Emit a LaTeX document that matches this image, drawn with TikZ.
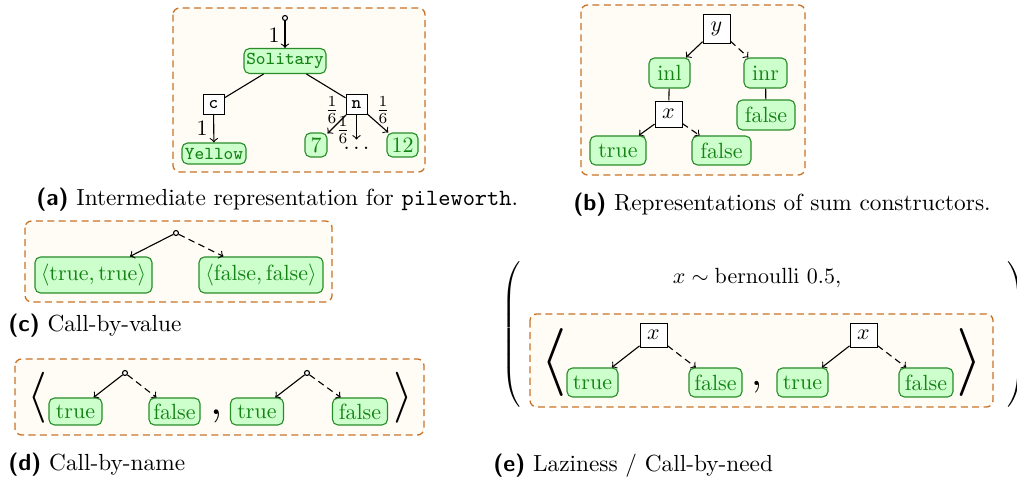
\documentclass[tikz,border=0pt]{standalone}
\usepackage{graphicx}
\usepackage{amsmath}
\newcommand\pxu{0.455pt}
\newdimen\pxlen \pxlen=0.455pt
\definecolor{boxline}{RGB}{200,115,40}
\definecolor{boxfill}{RGB}{255,251,245}
\definecolor{gfill}{RGB}{204,255,204}
\definecolor{gdraw}{RGB}{40,140,40}
\definecolor{gtext}{RGB}{20,130,20}
\newcommand\smalltt[1]{{\fontsize{8.3pt}{10pt}\selectfont\ttfamily #1}}
\newcommand\bigglyph[2]{\resizebox*{!}{#1\pxlen}{#2}}
\tikzset{
  panel/.style={draw=boxline, fill=boxfill, line width=0.6pt, dash pattern=on 3.2pt off 2pt, rounded corners=3pt},
  gn/.style 2 args={draw=gdraw, fill=gfill, text=gtext, rounded corners=2.5pt, inner sep=0pt, line width=0.5pt, minimum width=#1*\pxu, minimum height=#2*\pxu},
  vb/.style 2 args={draw, fill=white, inner sep=0pt, line width=0.45pt, minimum width=#1*\pxu, minimum height=#2*\pxu},
  root/.style={circle, draw, fill=white, inner sep=0pt, minimum size=5*\pxu, line width=0.5pt},
  arr/.style={->, line width=0.5pt},
  darr/.style={->, line width=0.5pt, dash pattern=on 3pt off 2pt},
  ln/.style={line width=0.5pt},
  lbl/.style={inner sep=0pt},
  bare/.style={inner sep=0pt},
  captext/.style={anchor=base west, inner sep=0pt, font=\fontsize{10.6pt}{13pt}\selectfont},
}
\begin{document}
\begin{tikzpicture}[x=\pxu, y=-\pxu]
\useasboundingbox (0,0) rectangle (1017,482);

% (a) intermediate representation
\draw[panel] (173,8) rectangle (425,172);
\node[root] (a0) at (285,18) {};
\node[gn={82}{25}] (sol) at (285,61) {\smalltt{Solitary}};
\node[vb={21}{20}] (c) at (213.5,104.5) {\smalltt{c}};
\node[vb={21}{20}] (n) at (356.5,104.5) {\smalltt{n}};
\node[gn={64}{21}] (yel) at (214,153.5) {\smalltt{Yellow}};
\node[gn={22}{24}] (s7) at (316,145) {7};
\node[bare, minimum height=16*\pxu] (dots) at (356.5,148) {$\ldots$};
\node[gn={31}{24}] (s12) at (402.5,145) {12};
\draw[arr] (a0) -- (sol);
\draw[ln] (sol) -- (c);
\draw[ln] (sol) -- (n);
\draw[arr] (c) -- (yel);
\draw[arr] (n) -- (s7);
\draw[arr] (n) -- (dots);
\draw[arr] (n) -- (s12);
\node[lbl] at (274,35) {$1$};
\node[lbl] at (202,128) {$1$};
\node[lbl] at (332,110) {$\frac{1}{6}$};
\node[lbl] at (343,130) {$\frac{1}{6}$};
\node[lbl] at (383,110) {$\frac{1}{6}$};

% (b) sum constructors
\draw[panel] (581,5) rectangle (805,175);
\node[vb={27}{29}] (yv) at (716.5,28.5) {$y$};
\node[gn={41}{30}] (inl) at (669.5,73) {inl};
\node[gn={43}{30}] (inr) at (765.5,73) {inr};
\node[vb={27}{26}] (xv) at (668.5,114) {$x$};
\node[gn={58}{30}] (bf1) at (766,115) {false};
\node[gn={56}{29}] (bt) at (618,150.5) {true};
\node[gn={59}{29}] (bf2) at (721.5,150.5) {false};
\draw[arr] (yv) -- (inl);
\draw[darr] (yv) -- (inr);
\draw[ln] (inl) -- (xv);
\draw[ln] (inr) -- (bf1);
\draw[arr] (xv) -- (bt);
\draw[darr] (xv) -- (bf2);

% (c) call-by-value
\draw[panel] (25,221) rectangle (332,302);
\node[root] (c0) at (176,233) {};
\node[gn={117}{36}] (ctt) at (93.5,275) {$\langle\mathrm{true},\mathrm{true}\rangle$};
\node[gn={124}{36}] (cff) at (261,275) {$\langle\mathrm{false},\mathrm{false}\rangle$};
\draw[arr] (c0) -- (ctt);
\draw[darr] (c0) -- (cff);

% (d) call-by-name
\draw[panel] (15,359) rectangle (424,435);
\node[bare] (dl) at (37.5,397.5) {\bigglyph{51}{$\langle$}};
\node[bare] (dr) at (403,397.5) {\bigglyph{51}{$\rangle$}};
\node[root] (d1) at (125,373) {};
\node[root] (d2) at (307,373) {};
\node[gn={53}{27}] (dt1) at (75.5,411.5) {true};
\node[gn={51}{27}] (df1) at (174.5,411.5) {false};
\node[gn={53}{27}] (dt2) at (257,411.5) {true};
\node[gn={55}{27}] (df2) at (360,411.5) {false};
\node[bare, anchor=base] (dc) at (216.5,415) {\scalebox{2}{,}};
\draw[arr] (d1) -- (dt1);
\draw[darr] (d1) -- (df1);
\draw[arr] (d2) -- (dt2);
\draw[darr] (d2) -- (df2);

% (e) laziness / call-by-need
\node[bare] (pl) at (512.5,337.5) {\bigglyph{151}{$\left(\vrule height 33pt depth 33pt width 0pt\right.$}};
\node[bare] (pr) at (1015.5,337.5) {\bigglyph{151}{$\left.\vrule height 33pt depth 33pt width 0pt\right)$}};
\node (bern) at (757,278) {$x\sim\mathrm{bernoulli}\ 0.5,$};
\draw[panel] (530,314) rectangle (993,407);
\node[bare] (el) at (553.5,362) {\bigglyph{68}{$\langle$}};
\node[bare] (er) at (970,362) {\bigglyph{68}{$\rangle$}};
\node[vb={27}{24}] (ex1) at (653.5,335) {$x$};
\node[vb={27}{24}] (ex2) at (863.5,335) {$x$};
\node[gn={51}{29}] (et1) at (592.5,382.5) {true};
\node[gn={53}{29}] (ef1) at (715.5,382.5) {false};
\node[gn={51}{29}] (et2) at (802.5,382.5) {true};
\node[gn={54}{29}] (ef2) at (926,382.5) {false};
\node[bare, anchor=base] (ec) at (756.5,386) {\scalebox{1.8}{,}};
\draw[arr] (ex1) -- (et1);
\draw[darr] (ex1) -- (ef1);
\draw[arr] (ex2) -- (et2);
\draw[darr] (ex2) -- (ef2);

% captions
\node[captext] at (36,206) {\textsf{\textbf{(a)}} Intermediate representation for \texttt{pileworth}.};
\node[captext] at (573,211) {\textsf{\textbf{(b)}} Representations of sum constructors.};
\node[captext] at (8,332) {\textsf{\textbf{(c)}} Call-by-value};
\node[captext] at (8,471) {\textsf{\textbf{(d)}} Call-by-name};
\node[captext] at (493,472) {\textsf{\textbf{(e)}} Laziness / Call-by-need};
\end{tikzpicture}
\end{document}
